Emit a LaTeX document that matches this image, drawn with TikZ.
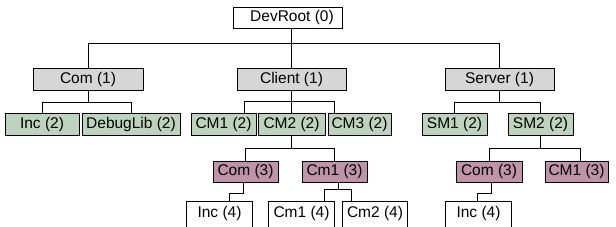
\documentclass[tikz,border=0pt]{standalone}
\usepackage{fontspec}
\setmainfont{Liberation Sans}
\definecolor{lvlgray}{RGB}{214,214,214}
\definecolor{lvlgreen}{RGB}{190,211,190}
\definecolor{lvlmauve}{RGB}{191,148,168}
\begin{document}
\begin{tikzpicture}[x=1pt,y=-1pt,line width=0.9pt,
  every node/.style={font=\fontsize{15.5}{18}\selectfont,inner sep=0pt,minimum height=22pt},
  rootbox/.style={draw,fill=white,minimum height=21pt},
  graybox/.style={draw,fill=lvlgray},
  greenbox/.style={draw,fill=lvlgreen},
  mauvebox/.style={draw,fill=lvlmauve,minimum height=21pt},
  leafbox/.style={draw=none}]
\useasboundingbox (0,0) rectangle (616,227);
\clip (0,0) rectangle (616,227);
% level 0
\node[rootbox,minimum width=109pt] (root) at (287.5,17.5) {\hspace{9pt}DevRoot (0)};
% level 1
\node[graybox,minimum width=110pt] (com1) at (88,79) {Com (1)};
\node[graybox,minimum width=109pt] (client) at (291.5,79) {Client (1)};
\node[graybox,minimum width=109pt] (server) at (499.5,79) {Server (1)};
% level 2
\node[greenbox,minimum width=74pt] (inc2) at (42,124) {Inc (2)};
\node[greenbox,minimum width=98pt] (debug) at (131,124) {DebugLib (2)};
\node[greenbox,minimum width=65pt] (cm1) at (223.5,124) {CM1 (2)};
\node[greenbox,minimum width=67pt] (cm2) at (291.5,124) {CM2 (2)};
\node[greenbox,minimum width=63pt] (cm3) at (359.5,124) {CM3 (2)};
\node[greenbox,minimum width=65pt] (sm1) at (454.5,124) {SM1 (2)};
\node[greenbox,minimum width=65pt] (sm2) at (540.5,124) {SM2 (2)};
% level 3
\node[mauvebox,minimum width=65pt] (com3a) at (245.5,171.5) {Com (3)};
\node[mauvebox,minimum width=65pt] (cm13a) at (334.5,171.5) {Cm1 (3)};
\node[mauvebox,minimum width=66pt] (com3b) at (489,171.5) {Com (3)};
\node[mauvebox,minimum width=63pt] (cm13b) at (576.5,171.5) {CM1 (3)};
% level 4
\node[leafbox,minimum width=65pt] (inc4a) at (219.5,213) {Inc (4)};
\node[leafbox,minimum width=65pt] (cm14) at (301.5,213) {Cm1 (4)};
\node[leafbox,minimum width=64pt] (cm24) at (375,213) {Cm2 (4)};
\node[leafbox,minimum width=65pt] (inc4b) at (478.5,213) {Inc (4)};
\foreach \n in {inc4a,cm14,cm24,inc4b}{
  \draw ([yshift=-12pt]\n.south west) |- (\n.north east) -- ([yshift=-12pt]\n.south east);
}
% connectors level 0-1
\draw (root.south -| client.north) -- (client.north);
\draw (com1.north) -- ++(0,-24) -| (server.north);
% level 1-2
\draw (com1.south) -- (com1.south |- 0,102);
\draw (inc2.north) |- (debug.north |- 0,102) -- (debug.north);
\draw (client.south) -- (cm2.north);
\draw ([xshift=20.5pt]cm1.north) -- ++(0,-11) -| ([xshift=-25.5pt]cm3.north);
\draw (server.south) -- (server.south |- 0,102);
\draw (sm1.north) |- (sm2.north |- 0,102) -- (sm2.north);
% level 2-3
\draw (cm2.south) -- (cm2.south |- 0,148);
\draw (com3a.north) |- (cm13a.north |- 0,148) -- (cm13a.north);
\draw (sm2.south) -- (sm2.south |- 0,148);
\draw (com3b.north) |- ([xshift=3.5pt]cm13b.north |- 0,148) -- ([xshift=3.5pt]cm13b.north);
% level 3-4
\draw ([xshift=-2.5pt]com3a.south) -- ++(0,11) -| ([xshift=9.5pt]inc4a.north);
\draw ([xshift=3.5pt]cm13a.south) -- ++(0,8);
\draw ([xshift=22.5pt]cm14.north) -- ++(0,-12) -| ([xshift=-24pt]cm24.north);
\draw ([xshift=2pt]com3b.south) -- ++(0,11) -| ([xshift=-1.5pt]inc4b.north);
\end{tikzpicture}
\end{document}
